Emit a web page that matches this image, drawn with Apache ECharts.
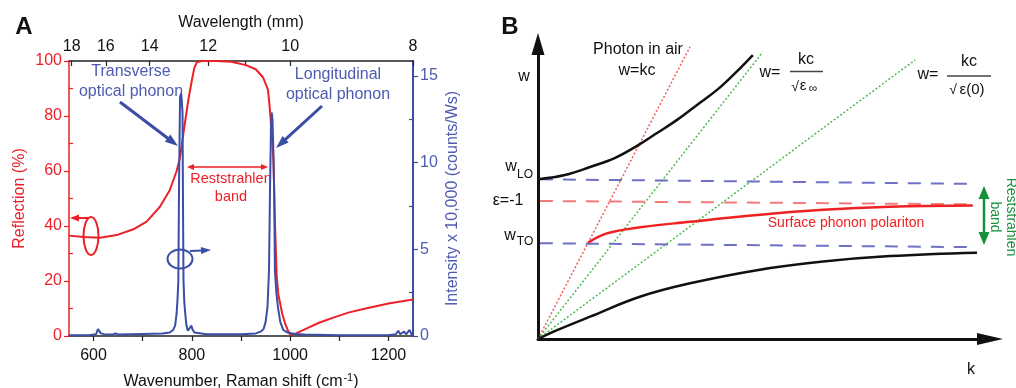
<!DOCTYPE html>
<html>
<head>
<meta charset="utf-8">
<script src="https://cdn.jsdelivr.net/npm/echarts@6/dist/echarts.min.js"></script>
<style>
  html, body { margin: 0; padding: 0; background: #fff; }
  #chart { width: 1016px; height: 388px; }
</style>
</head>
<body>
<div id="chart"></div>
<script>
// ---- Panel A: infrared reflection spectrum (left axis, %) ----
const reflWavenumber = [550, 580, 613, 647, 681, 708, 735, 755, 769, 776, 783, 793, 800, 805, 810, 820, 850, 880, 910, 930, 945, 955, 959, 963, 966, 969, 972.5, 976, 979.5, 984, 989.5, 995, 1000, 1010, 1034, 1060, 1088, 1120, 1156, 1200, 1250];
const reflPercent    = [36.5, 36.0, 35.7, 36.7, 38.8, 41.6, 47, 53, 60, 65, 74, 86, 93, 97.5, 99.5, 100, 100, 99.7, 98.5, 97, 94, 89.5, 82, 72, 64, 42, 22, 15, 12, 8, 4.7, 2.2, 0.5, 0.8, 2.8, 4.9, 6.7, 8.6, 10.1, 11.8, 13.3];

// ---- Panel A: Raman spectrum (right axis, x10,000 counts/Ws) ----
const ramanWavenumber = [550, 590, 605, 609, 612, 615, 625, 640, 645, 650, 700, 740, 755, 762, 766, 769, 771, 772.5, 774, 776, 778, 779.5, 781, 782, 783, 784.5, 786.5, 789, 792, 796, 799, 801, 805, 830, 900, 930, 940, 946, 950, 954, 957, 959, 961, 962.5, 964, 966, 967.5, 969, 972, 975, 980, 986, 995, 1010, 1030, 1100, 1200, 1215, 1220, 1224, 1232, 1236, 1243, 1247, 1250];
const ramanIntensity  = [0.05, 0.05, 0.1, 0.4, 0.45, 0.15, 0.08, 0.1, 0.15, 0.08, 0.12, 0.15, 0.2, 0.35, 0.6, 1.3, 2.2, 3.2, 9.0, 13.8, 14.0, 13.6, 12.9, 7.5, 3.2, 2.0, 1.3, 0.6, 0.3, 0.35, 0.6, 0.4, 0.2, 0.1, 0.1, 0.15, 0.25, 0.4, 0.8, 1.7, 3.8, 8.4, 12.0, 12.9, 12.5, 10.5, 8.4, 3.8, 2.5, 1.7, 0.8, 0.35, 0.2, 0.12, 0.08, 0.05, 0.05, 0.1, 0.3, 0.1, 0.25, 0.1, 0.35, 0.1, 0.05];

// ---- Panel A: axis ticks and labels ----
const wavenumberLabels = [600, 800, 1000, 1200];
const wavenumberTicks  = [600, 700, 800, 900, 1000, 1100, 1200];
const wavelengthLabels = [18, 16, 14, 12, 10, 8];     // micrometres, top axis
const wavelengthTicks  = [18, 16, 14, 12, 11, 10, 8];
const reflMinorTicks   = [10, 30, 50, 70, 90];
const ramanLabels      = [0, 5, 10, 15];
const ramanMinorTicks  = [2.5, 7.5, 12.5];

// ---- Panel B: dispersion schematic (arbitrary k / w units) ----
const lightLineK  = [0, 32.7],  lightLineW  = [0, 95.5];   // w = kc
const epsInfLineK = [0, 48.3],  epsInfLineW = [0, 93.7];   // w = kc / sqrt(eps_inf)
const eps0LineK   = [0, 81.1],  eps0LineW   = [0, 91.2];   // w = kc / sqrt(eps(0))
const wLOLevelK   = [0.4, 94],  wLOLevelW   = [52.2, 50.7];
const epsM1LevelK = [0.4, 94],  epsM1LevelW = [45.1, 44.0];
const wTOLevelK   = [0.4, 94],  wTOLevelW   = [31.3, 30.0];
const upperBranchK = [0.4, 5.8, 11.2, 16.6, 21.3, 25.6, 29.9, 34.2, 38.5, 42.4, 46.2];
const upperBranchW = [52.3, 53.6, 56.2, 59.2, 63.1, 67.3, 71.6, 76.5, 81.4, 86.9, 92.8];
const lowerBranchK = [0, 4.1, 11.2, 21.9, 32.7, 47.1, 61.3, 75.7, 94.4];
const lowerBranchW = [0, 2.9, 7.3, 13.8, 18.2, 22.5, 25.3, 27.1, 28.2];
const sppBranchK   = [10.8, 14.8, 21.9, 32.7, 47.1, 61.3, 75.7, 93.5];
const sppBranchW   = [31.5, 34.5, 36.5, 38.3, 40.5, 42.2, 43.2, 43.6];

const FONT = '"Liberation Sans", Arial, Helvetica, sans-serif';
const RED = '#ec2027';
const BLUE = '#3b4ea6';
const BLUE_TEXT = '#4d5bb0';
const GREEN = '#17913c';
const INK = '#111111';

const pairs = (xs, ys) => xs.map((x, i) => [x, ys[i]]);

function lineSeries(xAxisIndex, yAxisIndex, xs, ys, color, width, type, smooth) {
  return {
    type: 'line', xAxisIndex, yAxisIndex,
    data: pairs(xs, ys),
    showSymbol: false, symbol: 'none', silent: true, animation: false,
    smooth: smooth || false,
    lineStyle: { color, width, type: type || 'solid', cap: 'butt' }
  };
}

// Straight arrow (optionally double-headed) drawn as a line plus filled heads
function arrow(x1, y1, x2, y2, color, width, headLen, headWidth, both) {
  const dx = x2 - x1, dy = y2 - y1, L = Math.hypot(dx, dy);
  const ux = dx / L, uy = dy / L;
  const head = (tx, ty, vx, vy) => {
    const bx = tx - vx * headLen, by = ty - vy * headLen;
    return {
      type: 'polygon', silent: true,
      shape: { points: [[tx, ty], [bx - vy * headWidth / 2, by + vx * headWidth / 2], [bx + vy * headWidth / 2, by - vx * headWidth / 2]] },
      style: { fill: color }
    };
  };
  const sx = both ? x1 + ux * (headLen - 1) : x1, sy = both ? y1 + uy * (headLen - 1) : y1;
  const els = [{
    type: 'line', silent: true,
    shape: { x1: sx, y1: sy, x2: x2 - ux * (headLen - 1), y2: y2 - uy * (headLen - 1) },
    style: { stroke: color, lineWidth: width }
  }, head(x2, y2, ux, uy)];
  if (both) els.push(head(x1, y1, -ux, -uy));
  return els;
}

function txt(x, y, text, size, color, extra) {
  return Object.assign({
    type: 'text', x, y, silent: true,
    style: Object.assign({ text, fontSize: size, fontFamily: FONT, fill: color, align: 'center', verticalAlign: 'middle' }, (extra && extra.style) || {})
  }, extra && extra.el);
}

const hideAxisBits = { axisTick: { show: false }, axisLabel: { show: false }, splitLine: { show: false } };

const option = {
  backgroundColor: '#ffffff',
  animation: false,
  grid: [
    { left: 69, top: 61, width: 344, height: 275, outerBoundsMode: 'none' },
    { left: 538, top: 44, width: 452, height: 295, outerBoundsMode: 'none' }
  ],
  xAxis: [
    { // bottom: wavenumber
      gridIndex: 0, type: 'value', position: 'bottom', min: 550, max: 1250,
      axisLine: { onZero: false, lineStyle: { color: '#222', width: 1.5 } },
      axisTick: { customValues: wavenumberTicks, length: 5, lineStyle: { color: '#222', width: 1.2 } },
      axisLabel: { customValues: wavenumberLabels, formatter: v => String(v), color: INK, fontSize: 16, fontFamily: FONT, margin: 12 },
      splitLine: { show: false },
      name: 'Wavenumber, Raman shift (cm{sup|-1})', nameLocation: 'middle', nameGap: 36, nameMoveOverlap: false,
      nameTextStyle: { color: INK, fontSize: 16, fontFamily: FONT,
        rich: { sup: { fontSize: 11, fontFamily: FONT, color: INK, verticalAlign: 'top', padding: [0, 0, 9, 1] } } }
    },
    { // top: wavelength
      gridIndex: 0, type: 'value', position: 'top', min: 550, max: 1250,
      axisLine: { onZero: false, lineStyle: { color: '#222', width: 1.5 } },
      axisTick: { inside: true, customValues: wavelengthTicks.map(l => 10000 / l), length: 5, lineStyle: { color: '#222', width: 1.2 } },
      axisLabel: { customValues: wavelengthLabels.map(l => 10000 / l), formatter: v => String(Math.round(10000 / v)),
        color: INK, fontSize: 16, fontFamily: FONT, margin: 6 },
      splitLine: { show: false },
      name: 'Wavelength (mm)', nameLocation: 'middle', nameGap: 30, nameMoveOverlap: false,
      nameTextStyle: { color: INK, fontSize: 16, fontFamily: FONT }
    },
    Object.assign({ // panel B: k
      gridIndex: 1, type: 'value', min: 0, max: 97.2,
      axisLine: { onZero: false, symbol: ['none', 'triangle'], symbolSize: [12, 26], lineStyle: { color: INK, width: 3 } }
    }, hideAxisBits)
  ],
  yAxis: [
    { // left: reflection
      gridIndex: 0, type: 'value', position: 'left', min: 0, max: 100, interval: 20,
      axisLine: { show: true, onZero: false, lineStyle: { color: RED, width: 1.5 } },
      axisTick: { show: true, length: 5, lineStyle: { color: RED, width: 1.2 } },
      axisLabel: { color: RED, fontSize: 16, fontFamily: FONT, margin: 7 },
      splitLine: { show: false },
      name: 'Reflection (%)', nameLocation: 'middle', nameGap: 41, nameMoveOverlap: false,
      nameTextStyle: { color: RED, fontSize: 16, fontFamily: FONT }
    },
    { // right: Raman intensity
      gridIndex: 0, type: 'value', position: 'right', min: 0, max: 15.87,
      axisLine: { show: true, onZero: false, lineStyle: { color: BLUE, width: 2 } },
      axisTick: { show: true, customValues: ramanLabels, length: 5, lineStyle: { color: BLUE, width: 1.2 } },
      axisLabel: { customValues: ramanLabels, color: BLUE_TEXT, fontSize: 16, fontFamily: FONT, margin: 7 },
      splitLine: { show: false },
      name: 'Intensity x 10,000 (counts/Ws)', nameLocation: 'middle', nameGap: 32, nameMoveOverlap: false,
      nameTextStyle: { color: BLUE_TEXT, fontSize: 16, fontFamily: FONT }
    },
    { // left minor ticks (inward)
      gridIndex: 0, type: 'value', position: 'left', min: 0, max: 100,
      axisLine: { show: false, onZero: false },
      axisTick: { show: true, inside: true, customValues: reflMinorTicks, length: 4, lineStyle: { color: RED, width: 1.2 } },
      axisLabel: { show: false }, splitLine: { show: false }
    },
    { // right minor ticks (inward)
      gridIndex: 0, type: 'value', position: 'right', min: 0, max: 15.87,
      axisLine: { show: false, onZero: false },
      axisTick: { show: true, inside: true, customValues: ramanMinorTicks, length: 4, lineStyle: { color: BLUE, width: 1.2 } },
      axisLabel: { show: false }, splitLine: { show: false }
    },
    Object.assign({ // panel B: w
      gridIndex: 1, type: 'value', min: 0, max: 96.4,
      axisLine: { show: true, onZero: false, symbol: ['none', 'triangle'], symbolSize: [13, 22], lineStyle: { color: INK, width: 3 } }
    }, hideAxisBits)
  ],
  series: [
    lineSeries(0, 0, reflWavenumber, reflPercent, RED, 2),
    lineSeries(0, 1, ramanWavenumber, ramanIntensity, BLUE, 2),

    lineSeries(2, 4, lightLineK, lightLineW, '#f05a5a', 1.5, [2, 2]),
    lineSeries(2, 4, epsInfLineK, epsInfLineW, '#4fb94f', 1.5, [2, 2]),
    lineSeries(2, 4, eps0LineK, eps0LineW, '#4fb94f', 1.5, [2, 2]),
    lineSeries(2, 4, wLOLevelK, wLOLevelW, '#6e72c4', 2, [13, 10]),
    lineSeries(2, 4, epsM1LevelK, epsM1LevelW, '#f27a7a', 2, [13, 10]),
    lineSeries(2, 4, wTOLevelK, wTOLevelW, '#6e72c4', 2, [13, 10]),
    lineSeries(2, 4, upperBranchK, upperBranchW, INK, 2.5, 'solid', 0.4),
    lineSeries(2, 4, lowerBranchK, lowerBranchW, INK, 2.5, 'solid', 0.4),
    lineSeries(2, 4, sppBranchK, sppBranchW, '#ee2222', 2.5, 'solid', 0.4)
  ],
  graphic: [].concat(
    // Panel A annotations
    [txt(24, 27, 'A', 24, INK, { style: { fontWeight: 'bold' } })],
    [txt(131, 82, 'Transverse\noptical phonon', 16, BLUE_TEXT, { style: { lineHeight: 20 } })],
    [txt(338, 85, 'Longitudinal\noptical phonon', 16, BLUE_TEXT, { style: { lineHeight: 20 } })],
    [txt(231, 188, 'Reststrahlen\nband', 14.5, RED, { style: { lineHeight: 18 } })],
    arrow(120, 102, 178, 146, BLUE, 3, 13, 9),
    arrow(322, 106, 276, 148, BLUE, 3, 13, 9),
    arrow(187, 167, 268, 167, RED, 1.5, 7, 6, true),
    [{ type: 'ellipse', silent: true, shape: { cx: 91, cy: 236, rx: 7.5, ry: 19 }, style: { fill: 'none', stroke: RED, lineWidth: 2 } }],
    arrow(89, 218, 70, 218, RED, 2, 9, 7),
    [{ type: 'ellipse', silent: true, shape: { cx: 180, cy: 259, rx: 12.5, ry: 9.5 }, style: { fill: 'none', stroke: BLUE, lineWidth: 2 } }],
    arrow(190, 251, 211, 250, BLUE, 2, 10, 7),

    // Panel B annotations
    [txt(510, 27, 'B', 24, INK, { style: { fontWeight: 'bold' } })],
    [txt(638, 50, 'Photon in air', 16, INK)],
    [txt(637, 71, 'w=kc', 16, INK)],
    [txt(524, 77, 'w', 16, INK)],
    [txt(511, 167, 'w', 16, INK), txt(525, 175, 'LO', 12, INK)],
    [txt(508, 201, 'ε=-1', 16, INK)],
    [txt(510, 236, 'w', 16, INK), txt(525, 242, 'TO', 12, INK)],
    [txt(770, 73, 'w=', 16, INK), txt(806, 60, 'kc', 16, INK),
     { type: 'line', silent: true, shape: { x1: 790, y1: 71.5, x2: 823, y2: 71.5 }, style: { stroke: '#444', lineWidth: 1.3 } },
     txt(795, 87, '√', 14, INK), txt(803, 86, 'ε', 15, INK), txt(813, 89, '∞', 12, INK)],
    [txt(928, 75, 'w=', 16, INK), txt(969, 62, 'kc', 16, INK),
     { type: 'line', silent: true, shape: { x1: 947, y1: 76, x2: 991, y2: 76 }, style: { stroke: '#444', lineWidth: 1.3 } },
     txt(953, 90, '√', 14, INK), txt(972, 90, 'ε(0)', 15, INK)],
    [txt(846, 223, 'Surface phonon polariton', 14, '#ee2222')],
    [txt(971, 370, 'k', 16, INK)],
    arrow(984, 186, 984, 245, GREEN, 2.5, 13, 11, true),
    [txt(1003, 217, 'Reststrahlen\nband', 14, GREEN, { style: { lineHeight: 16 }, el: { rotation: -Math.PI / 2 } })]
  )
};

const chart = echarts.init(document.getElementById('chart'), null, { renderer: 'canvas' });
chart.setOption(option);
</script>
</body>
</html>
